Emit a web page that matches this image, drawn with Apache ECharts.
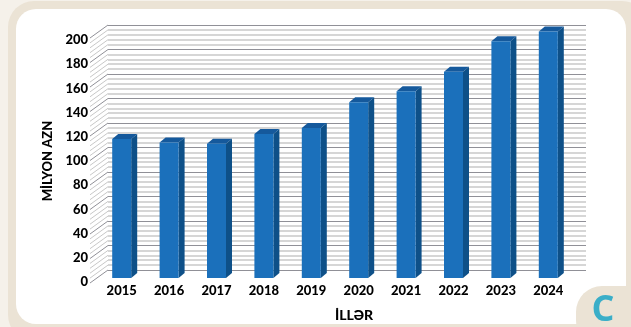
<!DOCTYPE html>
<html>
<head>
<meta charset="utf-8">
<style>
html, body { margin: 0; padding: 0; background: #f5f1ea; }
#chart { width: 631px; height: 327px; }
</style>
<script src="https://cdn.jsdelivr.net/npm/echarts@6/dist/echarts.min.js"></script>
</head>
<body>
<div id="chart"></div>
<script>
var years = ['2015', '2016', '2017', '2018', '2019', '2020', '2021', '2022', '2023', '2024'];
var budget = [114, 111, 110, 118, 123, 144, 153, 169, 194, 202];
var wallTicks = [0, 4, 8, 12, 16, 20, 24, 28, 32, 36, 40, 44, 48, 52, 56, 60, 64, 68, 72, 76, 80, 84, 88, 92, 96,
    100, 104, 108, 112, 116, 120, 124, 128, 132, 136, 140, 144, 148, 152, 156, 160, 164, 168, 172, 176, 180, 184, 188, 192, 196, 200];

var font = 'Lato';
var depth = { wallX: 18, wallY: 13, barX: 6, barY: 5, barW: 19 };

var myChart = echarts.init(document.getElementById('chart'));
var option = {
    animation: false,
    graphic: [
        { type: 'rect', z: -10, shape: { x: 8, y: 1, width: 640, height: 340, r: 26 }, style: { fill: '#ebe3d5' } },
        { type: 'rect', z: -9, shape: { x: 16, y: 9, width: 610, height: 315, r: 20 }, style: { fill: '#ffffff' } },
        { type: 'rect', z: -8, shape: { x: 576, y: 286, width: 80, height: 60, r: 26 }, style: { fill: '#ebe3d5' } },
        { type: 'text', z: 10, style: { x: 603, y: 311, text: 'C', font: 'bold 36px "Open Sans"', fill: '#3aaec8', align: 'center', verticalAlign: 'middle' } }
    ],
    grid: [
        { left: 108, top: 25, width: 478, height: 245 },
        { left: 98, top: 34, width: 474, height: 244 },
        { left: 90, top: 40, width: 474, height: 242 }
    ],
    xAxis: [
        { gridIndex: 0, type: 'value', min: 0, max: 1, show: false },
        {
            gridIndex: 1,
            type: 'category',
            data: years,
            axisLine: { show: false },
            axisTick: { show: false },
            axisLabel: { margin: 6, color: '#000', fontFamily: font, fontWeight: 900, fontSize: 13 },
            name: 'İLLƏR',
            nameLocation: 'middle',
            nameGap: 30,
            nameTextStyle: { color: '#000', fontFamily: font, fontWeight: 900, fontSize: 14, padding: [0, 0, 0, 38] }
        },
        { gridIndex: 2, type: 'value', min: 0, max: 1, show: false }
    ],
    yAxis: [
        {
            gridIndex: 0,
            type: 'value',
            min: 0,
            max: 200,
            interval: 20,
            axisLabel: { show: false },
            axisLine: { show: false },
            axisTick: { show: false },
            splitLine: { show: true, lineStyle: { color: '#909097', width: 1 } },
            minorSplitLine: { show: true, lineStyle: { color: '#c8c8c8', width: 1.6 } },
            minorTick: { splitNumber: 5 }
        },
        { gridIndex: 1, type: 'value', min: 0, max: 200, interval: 20, show: false },
        {
            gridIndex: 2,
            type: 'value',
            min: 0,
            max: 200,
            interval: 20,
            axisLine: { show: false },
            axisTick: { show: false },
            splitLine: { show: false },
            axisLabel: { margin: 2, color: '#000', fontFamily: font, fontWeight: 900, fontSize: 13 },
            name: 'MİLYON AZN',
            nameLocation: 'middle',
            nameGap: 36,
            nameTextStyle: { color: '#000', fontFamily: font, fontWeight: 900, fontSize: 13 }
        }
    ],
    series: [
        {
            // diagonal lines of the left wall
            type: 'custom',
            xAxisIndex: 0,
            yAxisIndex: 0,
            silent: true,
            data: wallTicks.map(function (v) { return [0, v]; }),
            encode: { x: 0, y: 1 },
            renderItem: function (params, api) {
                var v = api.value(1);
                var p = api.coord([0, v]);
                return {
                    type: 'line',
                    shape: { x1: p[0], y1: p[1], x2: p[0] - depth.wallX, y2: p[1] + depth.wallY },
                    style: { stroke: v % 20 === 0 ? '#909097' : '#c8c8c8', lineWidth: 1 }
                };
            }
        },
        {
            type: 'custom',
            xAxisIndex: 1,
            yAxisIndex: 1,
            silent: true,
            data: budget.map(function (v, i) { return [i, v]; }),
            encode: { x: 0, y: 1 },
            renderItem: function (params, api) {
                var top = api.coord([api.value(0), api.value(1)]);
                var base = api.coord([api.value(0), 0]);
                var l = top[0] - depth.barW / 2;
                var r = top[0] + depth.barW / 2;
                var dx = depth.barX;
                var dy = depth.barY;
                return {
                    type: 'group',
                    children: [
                        {
                            type: 'polygon',
                            shape: { points: [[l, top[1]], [l + dx, top[1] - dy], [r + dx, top[1] - dy], [r, top[1]]] },
                            style: { fill: '#15599c' }
                        },
                        {
                            type: 'polygon',
                            shape: { points: [[r, top[1]], [r + dx, top[1] - dy], [r + dx, base[1] - dy], [r, base[1]]] },
                            style: { fill: '#0e5088' }
                        },
                        {
                            type: 'rect',
                            shape: { x: l, y: top[1], width: depth.barW, height: base[1] - top[1] },
                            style: { fill: '#1b70bb' }
                        }
                    ]
                };
            }
        }
    ]
};
myChart.setOption(option);
</script>
</body>
</html>
